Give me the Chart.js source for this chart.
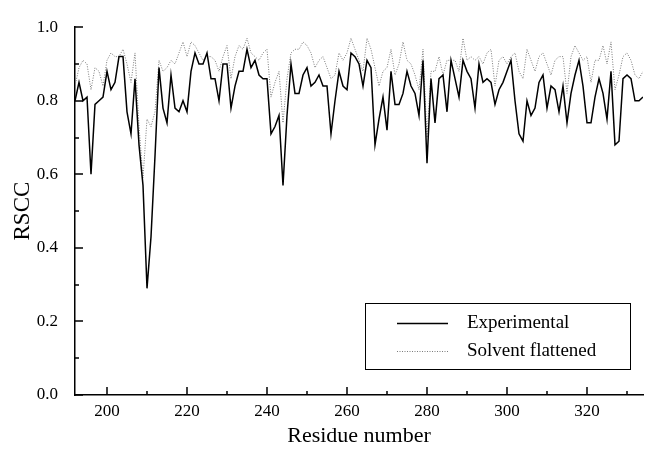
<!DOCTYPE html>
<html><head><meta charset="utf-8">
<script src="https://cdn.jsdelivr.net/npm/chart.js@4.4.0/dist/chart.umd.min.js"></script>
<style>html,body{margin:0;padding:0;background:#fff}#wrap{width:645px;height:450px}</style>
</head><body><div id="wrap"><canvas id="c" width="645" height="450"></canvas></div>
<script>
const residues = [
192,193,194,195,196,197,198,199,200,201,
202,203,204,205,206,207,208,209,210,211,
212,213,214,215,216,217,218,219,220,221,
222,223,224,225,226,227,228,229,230,231,
232,233,234,235,236,237,238,239,240,241,
242,243,244,245,246,247,248,249,250,251,
252,253,254,255,256,257,258,259,260,261,
262,263,264,265,266,267,268,269,270,271,
272,273,274,275,276,277,278,279,280,281,
282,283,284,285,286,287,288,289,290,291,
292,293,294,295,296,297,298,299,300,301,
302,303,304,305,306,307,308,309,310,311,
312,313,314,315,316,317,318,319,320,321,
322,323,324,325,326,327,328,329,330,331,
332,333,334];
const experimental = [
0.80,0.85,0.80,0.81,0.60,0.79,0.80,0.81,0.88,0.83,
0.85,0.92,0.92,0.77,0.71,0.86,0.68,0.57,0.29,0.43,
0.65,0.89,0.78,0.74,0.87,0.78,0.77,0.80,0.77,0.88,
0.93,0.90,0.90,0.93,0.86,0.86,0.80,0.90,0.90,0.78,
0.84,0.88,0.88,0.94,0.89,0.91,0.87,0.86,0.86,0.71,
0.73,0.76,0.57,0.76,0.90,0.82,0.82,0.87,0.89,0.84,
0.85,0.87,0.84,0.84,0.71,0.80,0.88,0.84,0.83,0.93,
0.92,0.90,0.84,0.91,0.89,0.68,0.75,0.81,0.72,0.88,
0.79,0.79,0.82,0.88,0.84,0.82,0.76,0.91,0.63,0.86,
0.74,0.86,0.87,0.77,0.91,0.86,0.81,0.91,0.88,0.86,
0.78,0.90,0.85,0.86,0.85,0.79,0.83,0.85,0.88,0.91,
0.80,0.71,0.69,0.80,0.76,0.78,0.85,0.87,0.78,0.84,
0.83,0.77,0.84,0.74,0.82,0.87,0.91,0.84,0.74,0.74,
0.81,0.86,0.82,0.75,0.88,0.68,0.69,0.86,0.87,0.86,
0.80,0.80,0.81];
const solventFlattened = [
0.84,0.89,0.91,0.90,0.83,0.89,0.88,0.84,0.91,0.93,
0.92,0.92,0.94,0.90,0.85,0.93,0.73,0.59,0.75,0.73,
0.77,0.91,0.88,0.89,0.91,0.90,0.93,0.96,0.92,0.96,
0.95,0.93,0.91,0.92,0.92,0.91,0.88,0.92,0.95,0.86,
0.92,0.95,0.94,0.97,0.93,0.92,0.91,0.93,0.94,0.81,
0.85,0.88,0.74,0.86,0.93,0.94,0.94,0.96,0.95,0.93,
0.89,0.91,0.92,0.89,0.86,0.87,0.93,0.91,0.93,0.97,
0.94,0.91,0.88,0.97,0.94,0.89,0.84,0.88,0.89,0.94,
0.87,0.90,0.96,0.91,0.90,0.87,0.83,0.94,0.70,0.88,
0.88,0.92,0.87,0.91,0.91,0.91,0.88,0.97,0.91,0.92,
0.91,0.92,0.90,0.93,0.94,0.84,0.91,0.92,0.90,0.92,
0.93,0.88,0.86,0.94,0.91,0.88,0.92,0.93,0.90,0.87,
0.91,0.92,0.92,0.82,0.92,0.95,0.93,0.91,0.92,0.85,
0.91,0.91,0.95,0.90,0.96,0.83,0.87,0.92,0.93,0.91,
0.87,0.86,0.88];
const seriesLabels = ['Experimental', 'Solvent flattened'];
const xTickValues = [200, 220, 240, 260, 280, 300, 320];
const xMinorTicks = [210, 230, 250, 270, 290, 310, 330];
const yTickValues = [0, 0.2, 0.4, 0.6, 0.8, 1.0];
const yMinorTicks = [0.1, 0.3, 0.5, 0.7, 0.9];
const xTitle = 'Residue number';
const yTitle = 'RSCC';

const SERIF = "'Liberation Serif','Times New Roman',serif";

const innerTicksAndLegend = {
  id: 'innerTicksAndLegend',
  afterDraw(chart) {
    const {ctx, chartArea: a, scales: {x, y}} = chart;
    ctx.save();
    ctx.strokeStyle = '#000';
    ctx.lineWidth = 1.5;
    ctx.beginPath();
    xTickValues.forEach(v => { const p = Math.round(x.getPixelForValue(v)); ctx.moveTo(p, a.bottom); ctx.lineTo(p, a.bottom - 8); });
    xMinorTicks.forEach(v => { const p = Math.round(x.getPixelForValue(v)); ctx.moveTo(p, a.bottom); ctx.lineTo(p, a.bottom - 4); });
    yTickValues.forEach(v => { const p = Math.round(y.getPixelForValue(v)); ctx.moveTo(a.left, p); ctx.lineTo(a.left + 8, p); });
    yMinorTicks.forEach(v => { const p = Math.round(y.getPixelForValue(v)); ctx.moveTo(a.left, p); ctx.lineTo(a.left + 4, p); });
    ctx.stroke();

    // legend box
    const bx = 365.5, by = 303.5, bw = 265, bh = 66;
    ctx.fillStyle = '#fff';
    ctx.fillRect(bx, by, bw, bh);
    ctx.lineWidth = 1;
    ctx.strokeStyle = '#000';
    ctx.strokeRect(bx, by, bw, bh);
    const rows = [323, 351];
    chart.data.datasets.forEach((ds, i) => {
      const yy = rows[i] + 0.5;
      ctx.save();
      ctx.strokeStyle = ds.borderColor;
      ctx.lineWidth = ds.borderWidth;
      ctx.setLineDash(ds.borderDash || []);
      ctx.beginPath();
      ctx.moveTo(397, yy);
      ctx.lineTo(448, yy);
      ctx.stroke();
      ctx.restore();
      ctx.fillStyle = '#000';
      ctx.font = '19px ' + SERIF;
      ctx.textBaseline = 'middle';
      ctx.textAlign = 'left';
      ctx.fillText(ds.label, 467, rows[i]);
    });
    ctx.restore();
  }
};

new Chart(document.getElementById('c'), {
  type: 'line',
  data: {
    datasets: [
      {
        label: seriesLabels[0],
        data: residues.map((r, i) => ({x: r, y: experimental[i]})),
        borderColor: '#000',
        borderWidth: 1.5,
        pointRadius: 0,
        tension: 0,
        fill: false,
        order: 1
      },
      {
        label: seriesLabels[1],
        data: residues.map((r, i) => ({x: r, y: solventFlattened[i]})),
        borderColor: '#7a7a7a',
        borderWidth: 1,
        borderDash: [1, 1.5],
        pointRadius: 0,
        tension: 0,
        fill: false,
        order: 2
      }
    ]
  },
  options: {
    responsive: false,
    animation: false,
    devicePixelRatio: 1,
    layout: {padding: {top: 18, right: 2, left: 0, bottom: 0}},
    plugins: {legend: {display: false}, tooltip: {enabled: false}},
    scales: {
      x: {
        type: 'linear',
        min: 192,
        max: 334,
        afterFit: s => { s.height = 55; },
        afterBuildTicks: s => { s.ticks = xTickValues.map(v => ({value: v})); },
        grid: {display: false, drawTicks: false},
        border: {display: true, color: '#000', width: 1.5},
        ticks: {padding: 6, color: '#000', font: {family: SERIF, size: 17}, maxRotation: 0, autoSkip: false,
                callback: v => String(v)},
        title: {display: true, text: xTitle, color: '#000', font: {family: SERIF, size: 22}, padding: {top: 0, bottom: 1}}
      },
      y: {
        min: 0,
        max: 1,
        afterFit: s => { s.width = 75; },
        afterBuildTicks: s => { s.ticks = yTickValues.map(v => ({value: v})); },
        grid: {display: false, drawTicks: false},
        border: {display: true, color: '#000', width: 1.5},
        ticks: {padding: 17, color: '#000', font: {family: SERIF, size: 17}, autoSkip: false,
                callback: v => Number(v).toFixed(1)},
        title: {display: true, text: yTitle, color: '#000', font: {family: SERIF, size: 23}, padding: {top: 9, bottom: 0}}
      }
    }
  },
  plugins: [innerTicksAndLegend]
});
</script>
</body></html>
